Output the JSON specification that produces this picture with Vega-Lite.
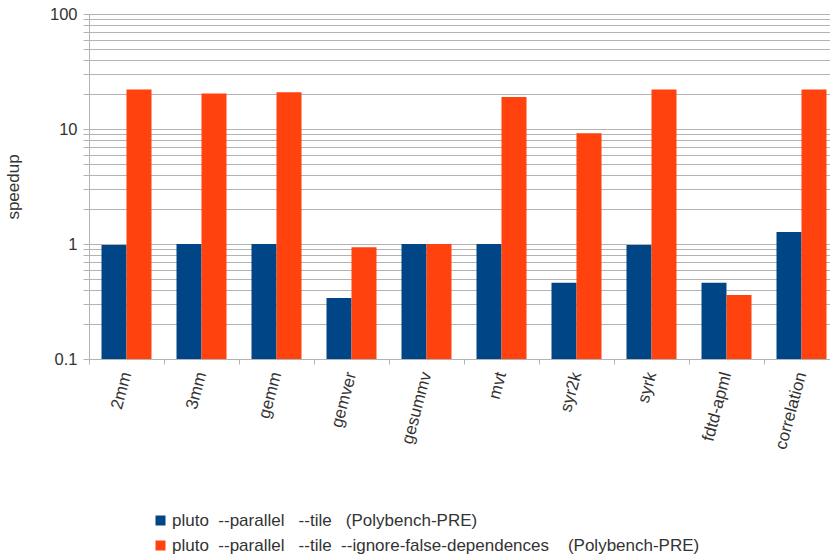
{
  "$schema": "https://vega.github.io/schema/vega-lite/v6.json",
  "autosize": {"type": "none"},
  "padding": {"left": 89, "top": 14, "right": 0, "bottom": 196},
  "width": 741,
  "height": 345,
  "background": "white",
  "config": {
    "view": {"stroke": null},
    "font": "Liberation Sans",
    "axis": {"labelFont": "Liberation Sans", "titleFont": "Liberation Sans"},
    "legend": {"labelFont": "Liberation Sans"}
  },
  "data": {
    "values": [
      {"bench": "2mm", "series": "s1", "speedup": 0.98},
      {"bench": "2mm", "series": "s2", "speedup": 22.1},
      {"bench": "3mm", "series": "s1", "speedup": 1.0},
      {"bench": "3mm", "series": "s2", "speedup": 20.4},
      {"bench": "gemm", "series": "s1", "speedup": 1.0},
      {"bench": "gemm", "series": "s2", "speedup": 20.9},
      {"bench": "gemver", "series": "s1", "speedup": 0.34},
      {"bench": "gemver", "series": "s2", "speedup": 0.935},
      {"bench": "gesummv", "series": "s1", "speedup": 1.0},
      {"bench": "gesummv", "series": "s2", "speedup": 1.0},
      {"bench": "mvt", "series": "s1", "speedup": 1.0},
      {"bench": "mvt", "series": "s2", "speedup": 19.0},
      {"bench": "syr2k", "series": "s1", "speedup": 0.46},
      {"bench": "syr2k", "series": "s2", "speedup": 9.2},
      {"bench": "syrk", "series": "s1", "speedup": 0.98},
      {"bench": "syrk", "series": "s2", "speedup": 22.1},
      {"bench": "fdtd-apml", "series": "s1", "speedup": 0.46},
      {"bench": "fdtd-apml", "series": "s2", "speedup": 0.36},
      {"bench": "correlation", "series": "s1", "speedup": 1.27},
      {"bench": "correlation", "series": "s2", "speedup": 22.1}
    ]
  },
  "mark": {"type": "bar"},
  "encoding": {
    "x": {
      "field": "bench",
      "type": "nominal",
      "sort": null,
      "scale": {"paddingInner": 0, "paddingOuter": 0, "range": [0, 750]},
      "axis": {
        "title": null,
        "bandPosition": 0,
        "labelAngle": -75,
        "labelFontSize": 17,
        "labelColor": "#333333",
        "labelPadding": 8,
        "tickSize": 5,
        "tickColor": "#b3b3b3",
        "domainColor": "#b3b3b3",
        "grid": false
      }
    },
    "xOffset": {
      "field": "series",
      "type": "nominal",
      "sort": ["s1", "s2"],
      "scale": {"paddingInner": 0, "paddingOuter": 0.5, "range": [0, 75]}
    },
    "y": {
      "field": "speedup",
      "type": "quantitative",
      "scale": {"type": "log", "domain": [0.1, 100], "nice": false},
      "axis": {
        "title": "speedup",
        "titleFontSize": 17,
        "titleFontWeight": "normal",
        "titleColor": "#333333",
        "titlePadding": 27,
        "values": [0.1, 0.2, 0.3, 0.4, 0.5, 0.6, 0.7, 0.8, 0.9, 1, 2, 3, 4, 5, 6, 7, 8, 9, 10, 20, 30, 40, 50, 60, 70, 80, 90, 100],
        "format": "~g",
        "labelExpr": "indexof([0.1, 1, 10, 100], datum.value) >= 0 ? datum.label : ''",
        "labelOverlap": false,
        "labelFontSize": 16.5,
        "labelColor": "#333333",
        "labelPadding": 6,
        "tickSize": 6,
        "tickColor": "#b3b3b3",
        "domainColor": "#b3b3b3",
        "grid": true,
        "gridColor": "#b3b3b3",
        "gridOpacity": 1
      }
    },
    "y2": {"datum": 0.1},
    "color": {
      "field": "series",
      "type": "nominal",
      "sort": ["s1", "s2"],
      "scale": {"domain": ["s1", "s2"], "range": ["#004586", "#ff420e"]},
      "legend": {
        "title": null,
        "orient": "none",
        "legendX": 63,
        "legendY": 498,
        "symbolType": "square",
        "symbolSize": 100,
        "symbolStrokeWidth": 0,
        "labelFontSize": 17,
        "labelColor": "#333333",
        "labelOffset": 3,
        "rowPadding": 7,
        "labelLimit": 700,
        "labelExpr": "datum.value == 's1' ? 'pluto\u00a0\u00a0--parallel\u00a0\u00a0\u00a0--tile\u00a0\u00a0\u00a0(Polybench-PRE)' : 'pluto\u00a0\u00a0--parallel\u00a0\u00a0\u00a0--tile\u00a0\u00a0--ignore-false-dependences\u00a0\u00a0\u00a0\u00a0(Polybench-PRE)'"
      }
    }
  }
}
